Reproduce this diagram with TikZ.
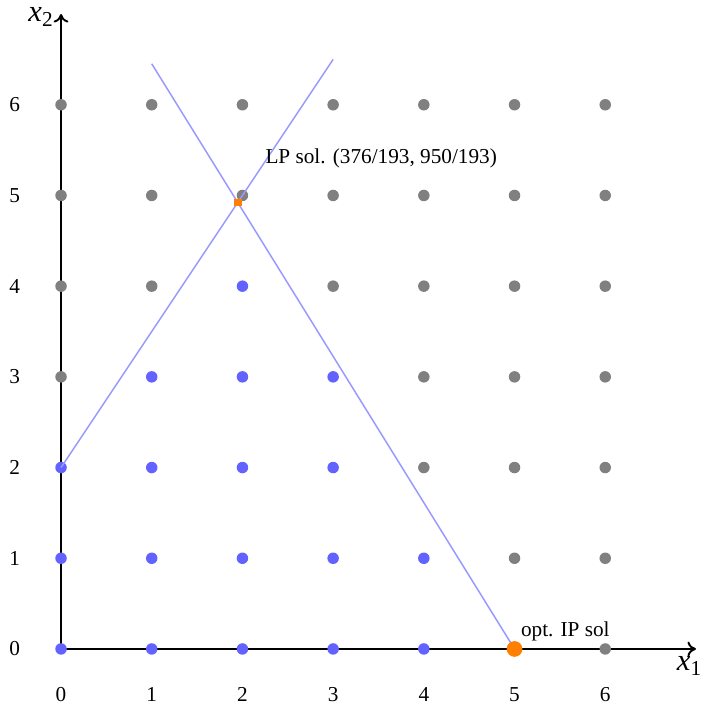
\documentclass[tikz,border=0pt]{standalone}
\usepackage{fontspec}
\setmainfont{Liberation Serif}
\usetikzlibrary{arrows.meta}
\definecolor{dotgray}{HTML}{808080}
\definecolor{dotblue}{HTML}{6262FF}
\definecolor{lineblue}{HTML}{9999FF}
\definecolor{optorange}{HTML}{FF8000}
\begin{document}
\begin{tikzpicture}[x=1.5cm,y=1.5cm,
  axis/.style={line width=0.9pt,-{To[length=4pt,width=7pt]}},
  cons/.style={draw=lineblue,line width=0.7pt},
  gdot/.style={circle,fill=dotgray,inner sep=0pt,minimum size=0.19cm},
  bdot/.style={circle,fill=dotblue,inner sep=0pt,minimum size=0.19cm},
  tick/.style={font=\normalsize},
  lbl/.style={font=\normalsize}]
\useasboundingbox (-0.673,-0.662) rectangle (7.141,7.155);
% axes
\coordinate (O) at (0,0);
\coordinate (xend) at (7,0);
\coordinate (yend) at (0,7);
\draw[axis] (O) -- (xend);
\draw[axis] (O) -- (yend);
\node[font=\Large] (xl) at (6.93,-0.19) {\textit{x}\textsubscript{1}};
\node[font=\Large] (yl) at (-0.22,6.97) {\textit{x}\textsubscript{2}};
% tick labels
\foreach \i in {0,...,6} {
  \node[tick] (tx\i) at (\i,-0.5) {\i};
  \node[tick] (ty\i) at (-0.51,\i) {\i};
}
% grid points
\foreach \i in {0,...,6} {
  \foreach \j in {0,...,6} {
    \pgfmathtruncatemacro{\feas}{and(\j <= 2+1.5*\i, 50*\i+31*\j <= 250) ? 1 : 0}
    \ifnum\feas=1
      \node[bdot] (p\i\j) at (\i,\j) {};
    \else
      \node[gdot] (p\i\j) at (\i,\j) {};
    \fi
  }
}
% constraint lines
\coordinate (a1) at (0,2);
\coordinate (a2) at (3,6.5);
\coordinate (b1) at (1,6.4516);
\coordinate (b2) at (5,0);
\draw[cons] (a1) -- (a2);
\draw[cons] (b1) -- (b2);
% optimum points
\node[circle,fill=optorange,inner sep=0pt,minimum size=0.26cm] (ip) at (5,0) {};
\node[rectangle,fill=optorange,inner sep=0pt,minimum size=0.13cm] (lp) at (1.9482,4.9223) {};
\node[lbl] (lplbl) at (3.53,5.41) {LP sol. (376/193, 950/193)};
\node[lbl] (iplbl) at (5.56,0.19) {opt. IP sol};
\end{tikzpicture}
\end{document}
